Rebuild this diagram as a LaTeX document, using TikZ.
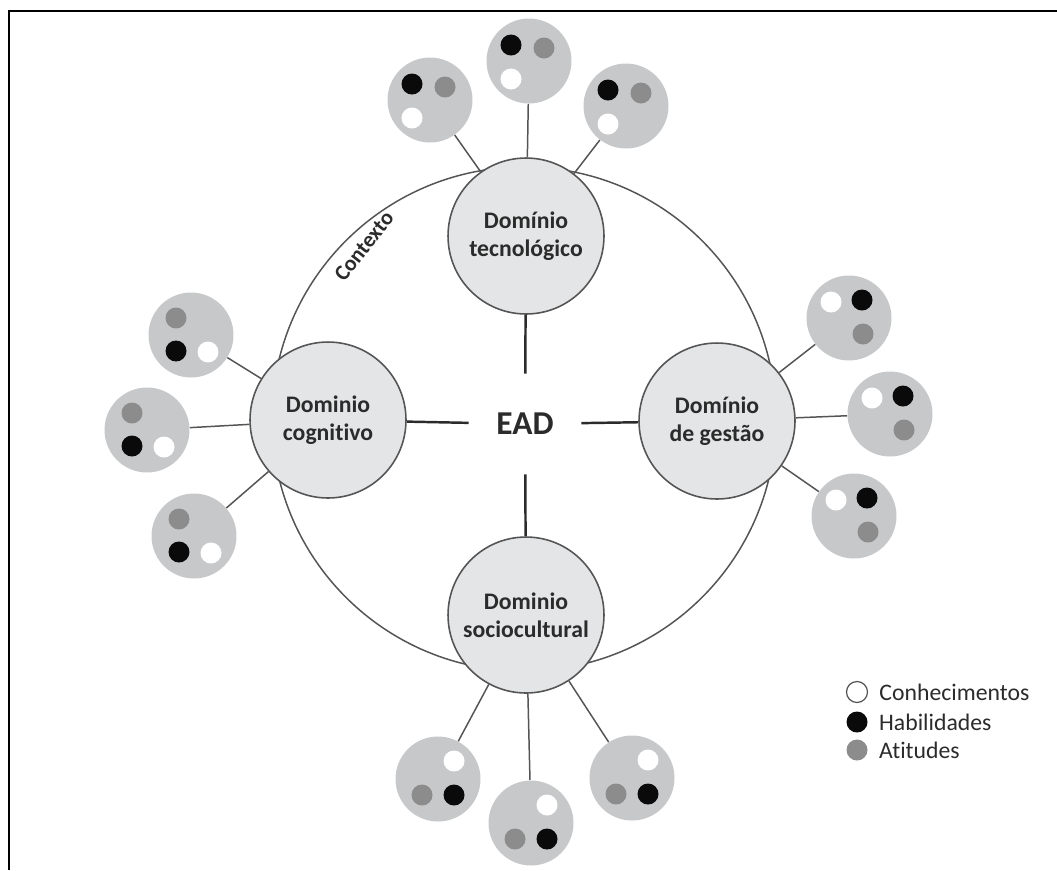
\documentclass[tikz,border=0pt]{standalone}
\usepackage{fontspec}
\setmainfont{Carlito}[Ligatures=NoCommon]
\usetikzlibrary{positioning}
\definecolor{eadline}{HTML}{555555}
\definecolor{eadtext}{HTML}{2B2B2B}
\definecolor{domfill}{HTML}{E4E5E6}
\definecolor{satfill}{HTML}{C7C8C9}
\definecolor{dotgray}{HTML}{8C8C8C}
\definecolor{dotblack}{HTML}{0A0A0A}

\begin{document}
\begin{tikzpicture}[x=0.02cm,y=-0.02cm,
  dombox/.style={circle,draw=eadline,line width=0.9pt,fill=domfill,minimum size=3.12cm,
    inner sep=0pt,align=center,text=eadtext,font=\bfseries\fontsize{13.5}{16}\selectfont},
  sat/.style={circle,fill=satfill,minimum size=1.7cm,inner sep=0pt},
  link/.style={draw=eadline,line width=0.85pt},
  hub/.style={draw=eadtext,line width=1.4pt},
  legdot/.style={circle,minimum size=0.42cm,inner sep=0pt},
  legtext/.style={text=eadtext,font=\fontsize{13.5}{15}\selectfont,inner sep=0pt}]
  \useasboundingbox (0,0) rectangle (1057,870);
  % frame
  \draw[line width=1.2pt] (9,870) -- (9,11) -- (1057,11);
  % context ring
  \draw[link] (524,419) circle[radius=252];
  \node[rotate=52,text=eadtext,font=\bfseries\fontsize{12.5}{14}\selectfont] (ctx) at (364,246) {Contexto};
  % domains
  \node[dombox] (dt) at (526,236) {Domínio\\tecnológico};
  \node[dombox] (dl) at (328,420) {Dominio\\cognitivo};
  \node[dombox] (dr) at (717,421) {Domínio\\de gestão};
  \node[dombox] (db) at (526,615) {Dominio\\sociocultural};
  \node[minimum width=2.24cm,minimum height=2cm,text=eadtext,
    font=\bfseries\fontsize{19}{22}\selectfont] (ead) at (525,424) {EAD};
  \draw[hub] (ead) -- (dt);
  \draw[hub] (ead) -- (dl);
  \draw[hub] (ead) -- (dr);
  \draw[hub] (ead) -- (db);
  % satellites: top
  \foreach \n/\x/\y in {t1/430/100,t2/529/61,t3/626/106} {
    \node[sat] (\n) at (\x,\y) {};
    \draw[link] (dt) -- (\n);
    \fill[dotblack] (\x-18,\y-16) circle[radius=10.5];
    \fill[dotgray] (\x+15,\y-13) circle[radius=10.5];
    \fill[white] (\x-18,\y+18) circle[radius=10.5];
  }
  % satellites: left
  \foreach \n/\x/\y in {l1/191/335,l2/147/430,l3/194/536} {
    \node[sat] (\n) at (\x,\y) {};
    \draw[link] (dl) -- (\n);
    \fill[dotgray] (\x-15,\y-17) circle[radius=10.5];
    \fill[dotblack] (\x-15,\y+16) circle[radius=10.5];
    \fill[white] (\x+17,\y+17) circle[radius=10.5];
  }
  % satellites: right
  \foreach \n/\x/\y in {r1/849/318,r2/890/414,r3/854/516} {
    \node[sat] (\n) at (\x,\y) {};
    \draw[link] (dr) -- (\n);
    \fill[white] (\x-18,\y-16) circle[radius=10.5];
    \fill[dotblack] (\x+13,\y-18) circle[radius=10.5];
    \fill[dotgray] (\x+14,\y+16) circle[radius=10.5];
  }
  % satellites: bottom
  \foreach \n/\x/\y in {b1/438/779,b2/531/823,b3/632/778} {
    \node[sat] (\n) at (\x,\y) {};
    \draw[link] (db) -- (\n);
    \fill[white] (\x+16,\y-18) circle[radius=10.5];
    \fill[dotgray] (\x-16,\y+16) circle[radius=10.5];
    \fill[dotblack] (\x+16,\y+16) circle[radius=10.5];
  }
  % legend
  \node[legdot,draw=eadline,line width=0.7pt,fill=white] (lk) at (857,692) {};
  \node[legdot,fill=dotblack] (lh) at (857,722) {};
  \node[legdot,fill=dotgray] (la) at (857,750) {};
  \node[legtext,right=0.22cm of lk] {Conhecimentos};
  \node[legtext,right=0.22cm of lh] {Habilidades};
  \node[legtext,right=0.22cm of la] {Atitudes};
\end{tikzpicture}
\end{document}
